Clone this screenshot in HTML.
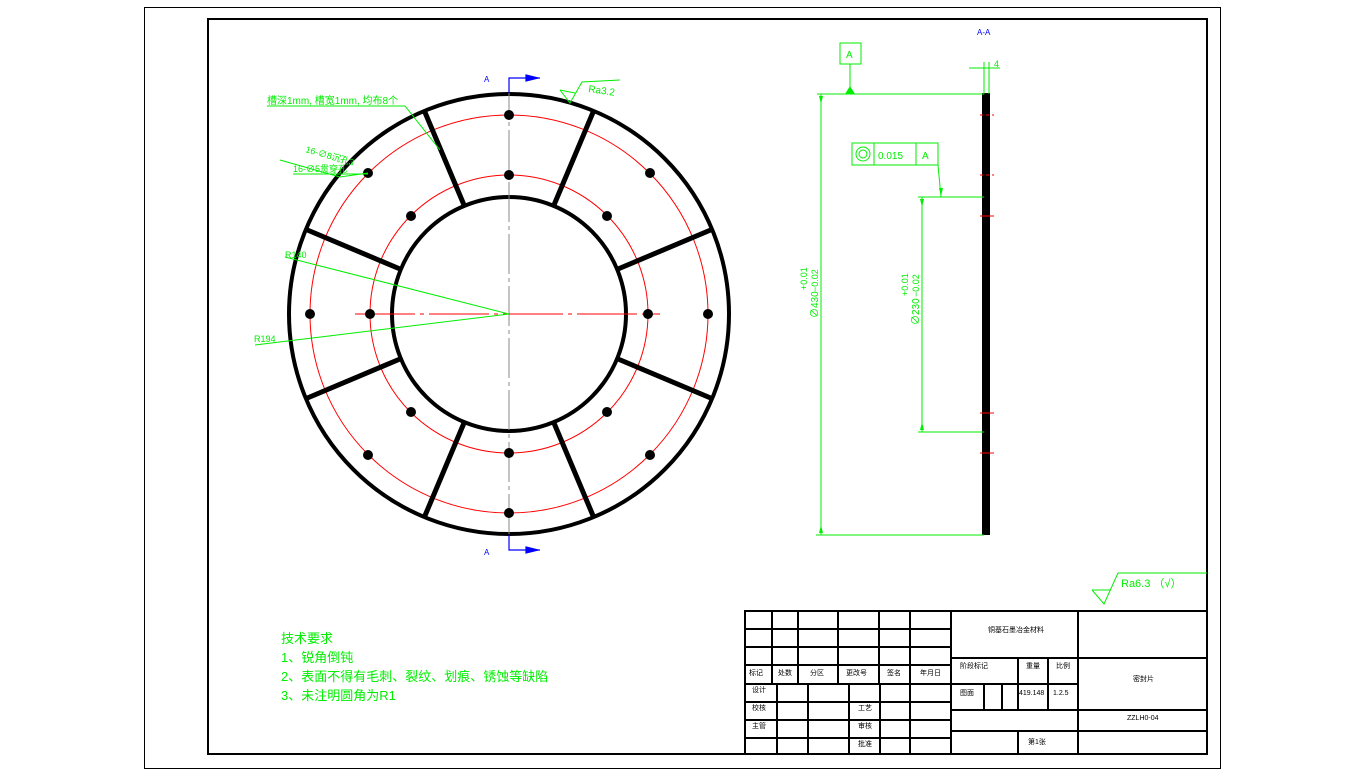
<!DOCTYPE html>
<html><head><meta charset="utf-8"><style>
html,body{margin:0;padding:0;background:#fff;}
svg{display:block;font-family:"Liberation Sans","Noto Sans CJK SC",sans-serif;}
</style></head><body>
<svg width="1365" height="776" viewBox="0 0 1365 776" xmlns="http://www.w3.org/2000/svg">
<rect x="144.5" y="7.5" width="1076" height="761" fill="none" stroke="#000" stroke-width="1"/>
<rect x="208" y="19" width="999" height="735" fill="none" stroke="#000" stroke-width="2"/>

<!-- front view -->
<g fill="none">
<circle cx="509" cy="314" r="199" stroke="#f00" stroke-width="1"/>
<circle cx="509" cy="314" r="139" stroke="#f00" stroke-width="1"/>
<circle cx="509" cy="314" r="220" stroke="#000" stroke-width="4"/>
<circle cx="509" cy="314" r="117" stroke="#000" stroke-width="4"/>
<g stroke="#000" stroke-width="5">
<line x1="618" y1="359" x2="713" y2="399"/><line x1="618" y1="269" x2="713" y2="229"/>
<line x1="400" y1="359" x2="305" y2="399"/><line x1="400" y1="269" x2="305" y2="229"/>
<line x1="554" y1="423" x2="594" y2="518"/><line x1="554" y1="205" x2="594" y2="110"/>
<line x1="464" y1="423" x2="424" y2="518"/><line x1="464" y1="205" x2="424" y2="110"/>
</g>
<line x1="509" y1="78" x2="509" y2="550" stroke="#888" stroke-width="1" stroke-dasharray="40 4 4 4"/>
<line x1="355" y1="314" x2="660" y2="314" stroke="#f00" stroke-width="1" stroke-dasharray="60 5 4 5"/>
</g>
<g fill="#000">
<circle cx="509" cy="115" r="5"/><circle cx="650" cy="173" r="5"/><circle cx="708" cy="314" r="5"/><circle cx="650" cy="455" r="5"/>
<circle cx="509" cy="513" r="5"/><circle cx="368" cy="455" r="5"/><circle cx="310" cy="314" r="5"/><circle cx="368" cy="173" r="5"/>
<circle cx="509" cy="175" r="5"/><circle cx="607" cy="216" r="5"/><circle cx="648" cy="314" r="5"/><circle cx="607" cy="412" r="5"/>
<circle cx="509" cy="453" r="5"/><circle cx="411" cy="412" r="5"/><circle cx="370" cy="314" r="5"/><circle cx="411" cy="216" r="5"/>
</g>
<!-- section marks -->
<g stroke="#00f" stroke-width="1.2" fill="#00f">
<polyline points="509,93 509,78 540,78" fill="none"/><polygon points="526,75 538,78 526,81"/>
<polyline points="509,535 509,550 540,550" fill="none"/><polygon points="526,547 538,550 526,553"/>
</g>
<g fill="#00f" font-size="8"><text x="484" y="82">A</text><text x="484" y="555">A</text><text x="977" y="35">A-A</text></g>

<!-- green annotations left -->
<g stroke="#0e0" stroke-width="1" fill="none">
<polyline points="267,106 405,106 440,150"/>
<polyline points="280,160 340,177 368,173"/>
<polyline points="293,174 368,174"/>
<polyline points="285,257 509,314"/>
<polyline points="255,345 509,314"/>
<polyline points="560,90 570,103 582,82 620,80"/>
<polyline points="560,90 575,93"/>
</g>
<g fill="#0e0" font-size="10">
<text x="267" y="104">槽深1mm, 槽宽1mm, 均布8个</text>
<text x="305" y="152" transform="rotate(16 305 152)" font-size="9">16-∅8沉孔3</text>
<text x="293" y="172" font-size="9">16-∅5贯穿孔</text>
<text x="285" y="258" font-size="9">R140</text>
<text x="254" y="342" font-size="9">R194</text>
<text x="588" y="92" transform="rotate(8 588 92)">Ra3.2</text>
</g>

<!-- side view -->
<rect x="982" y="93" width="8" height="442" fill="#000"/>
<g stroke="#f00" stroke-width="1"><line x1="980" y1="115" x2="994" y2="115" stroke-dasharray="3 3"/><line x1="980" y1="175" x2="994" y2="175" stroke-dasharray="3 3"/><line x1="980" y1="216" x2="994" y2="216"/><line x1="980" y1="413" x2="994" y2="413"/><line x1="980" y1="453" x2="994" y2="453"/></g>
<g stroke="#0e0" stroke-width="1" fill="none">
<rect x="840" y="43" width="21" height="21"/>
<line x1="850" y1="64" x2="850" y2="94"/>
<line x1="817" y1="94" x2="984" y2="94"/>
<line x1="821" y1="94" x2="821" y2="535"/>
<line x1="816" y1="535" x2="984" y2="535"/>
<line x1="918" y1="197" x2="984" y2="197"/>
<line x1="922" y1="197" x2="922" y2="432"/>
<line x1="918" y1="432" x2="984" y2="432"/>
<rect x="852" y="143" width="86" height="22"/><line x1="874" y1="143" x2="874" y2="165"/><line x1="916" y1="143" x2="916" y2="165"/>
<circle cx="863" cy="154" r="7"/><circle cx="863" cy="154" r="4"/>
<polyline points="938,165 941,197"/>
<line x1="969" y1="68" x2="1000" y2="68"/><line x1="984" y1="62" x2="984" y2="94"/><line x1="989" y1="62" x2="989" y2="94"/>
</g>
<g fill="#0e0"><polygon points="845,94 855,94 850,86"/><polygon points="819,96 823,96 821,104"/><polygon points="819,533 823,533 821,525"/><polygon points="920,199 924,199 922,207"/><polygon points="920,430 924,430 922,422"/><polygon points="939,188 943,188 941,196"/></g>
<g fill="#0e0" font-size="10">
<text x="846" y="58">A</text><text x="878" y="159">0.015</text><text x="922" y="159">A</text><text x="994" y="67" font-size="9">4</text>
<text transform="translate(818,318) rotate(-90)" font-size="10">∅430</text>
<text transform="translate(818,292) rotate(-90)" font-size="9">−0.02</text>
<text transform="translate(807,290) rotate(-90)" font-size="9">+0.01</text>
<text transform="translate(919,325) rotate(-90)" font-size="10">∅230</text>
<text transform="translate(919,297) rotate(-90)" font-size="9">−0.02</text>
<text transform="translate(908,296) rotate(-90)" font-size="9">+0.01</text>
</g>
<g stroke="#0e0" stroke-width="1" fill="none"><polyline points="1092,590 1104,604 1118,573 1207,573"/><line x1="1092" y1="590" x2="1110" y2="590"/></g>
<text x="1121" y="587" fill="#0e0" font-size="11">Ra6.3 （√）</text>

<!-- tech notes -->
<g fill="#0e0" font-size="13">
<text x="281" y="643">技术要求</text>
<text x="281" y="662">1、锐角倒钝</text>
<text x="281" y="681">2、表面不得有毛刺、裂纹、划痕、锈蚀等缺陷</text>
<text x="281" y="700">3、未注明圆角为R1</text>
</g>

<!-- title block -->
<g stroke="#000" stroke-width="2" fill="none">
<rect x="745" y="611" width="462" height="143"/>
<line x1="951" y1="611" x2="951" y2="754"/><line x1="1078" y1="611" x2="1078" y2="754"/>
<line x1="745" y1="629" x2="951" y2="629"/><line x1="745" y1="647" x2="951" y2="647"/><line x1="745" y1="665" x2="951" y2="665"/>
<line x1="745" y1="684" x2="951" y2="684"/><line x1="745" y1="702" x2="951" y2="702"/><line x1="745" y1="720" x2="951" y2="720"/><line x1="745" y1="738" x2="951" y2="738"/>
<line x1="772" y1="611" x2="772" y2="684"/><line x1="798" y1="611" x2="798" y2="684"/><line x1="838" y1="611" x2="838" y2="684"/>
<line x1="879" y1="611" x2="879" y2="684"/><line x1="910" y1="611" x2="910" y2="754"/>
<line x1="777" y1="684" x2="777" y2="754"/><line x1="808" y1="684" x2="808" y2="754"/><line x1="849" y1="684" x2="849" y2="754"/><line x1="880" y1="684" x2="880" y2="754"/>
<line x1="951" y1="658" x2="1207" y2="658"/><line x1="951" y1="684" x2="1078" y2="684"/>
<line x1="951" y1="710" x2="1207" y2="710"/><line x1="951" y1="731" x2="1207" y2="731"/>
<line x1="1018" y1="658" x2="1018" y2="710"/><line x1="1048" y1="658" x2="1048" y2="710"/>
<line x1="984" y1="684" x2="984" y2="710"/><line x1="1002" y1="684" x2="1002" y2="710"/>
<line x1="1018" y1="731" x2="1018" y2="754"/>
</g>
<g fill="#000" font-size="7">
<text x="749" y="675">标记</text><text x="778" y="675">处数</text><text x="810" y="675">分区</text><text x="846" y="675">更改号</text><text x="887" y="675">签名</text><text x="920" y="675">年月日</text>
<text x="752" y="692">设计</text><text x="752" y="710">校核</text><text x="752" y="728">主管</text>
<text x="858" y="710">工艺</text><text x="858" y="728">审核</text><text x="858" y="746">批准</text>
<text x="988" y="632">铜基石墨冶金材料</text>
<text x="960" y="668">阶段标记</text><text x="1026" y="668">重量</text><text x="1056" y="668">比例</text>
<text x="960" y="695">图面</text><text x="1019" y="695">419.148</text><text x="1053" y="695">1.2.5</text>
<text x="1133" y="681">密封片</text><text x="1127" y="720">ZZLH0-04</text>
<text x="1028" y="744">第1张</text>
</g>
</svg>
</body></html>
